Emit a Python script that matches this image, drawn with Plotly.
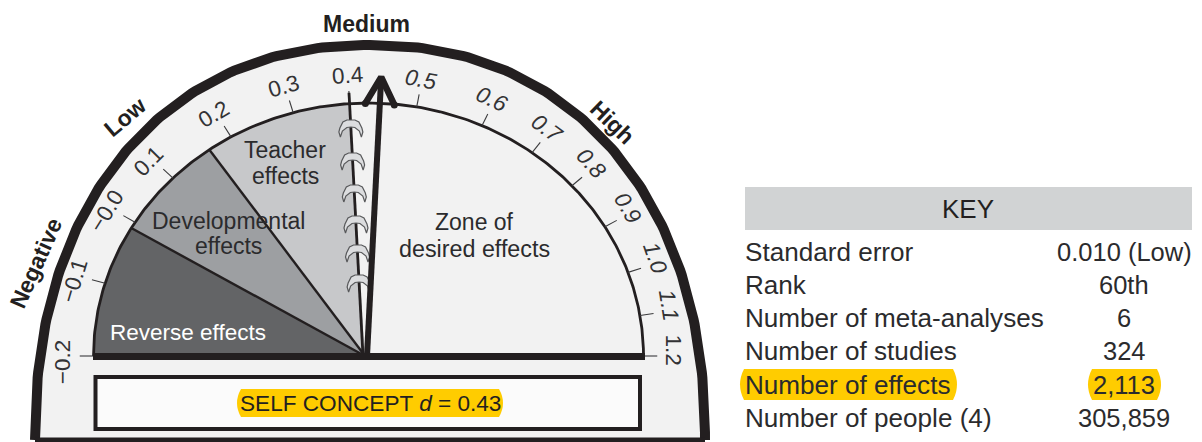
import numpy as np
import plotly.graph_objects as go

# ---------- data ----------
scale_d = [-0.2, -0.1, 0.0, 0.1, 0.2, 0.3, 0.4, 0.43, 0.5, 0.6, 0.7, 0.8, 0.9, 1.0, 1.1, 1.2]
scale_deg = [180, 163.3, 148.1, 135.3, 120, 105.9, 93.9, 87.6, 79.9, 65.6, 53.5, 42.3, 30.7, 19.3, 9.2, 0]
tick_values = [-0.2, -0.1, 0.0, 0.1, 0.2, 0.3, 0.4, 0.5, 0.6, 0.7, 0.8, 0.9, 1.0, 1.1, 1.2]
tick_labels = ["\u22120.2", "\u22120.1", "\u22120.0", "0.1", "0.2", "0.3", "0.4", "0.5", "0.6",
               "0.7", "0.8", "0.9", "1.0", "1.1", "1.2"]
zone_names = ["Reverse effects", "Developmental effects", "Teacher effects", "Zone of desired effects"]
zone_from = [-0.2, -0.01, 0.165, 0.4]
zone_to = [-0.01, 0.165, 0.4, 1.2]
zone_colors = ["#636466", "#9d9fa2", "#c7c8ca", "#f2f2f2"]
effect_d = 0.43
effect_name = "SELF CONCEPT"
band_names = ["Negative", "Low", "Medium", "High"]
key_names = ["Standard error", "Rank", "Number of meta-analyses", "Number of studies",
             "Number of effects", "Number of people (4)"]
key_values = ["0.010 (Low)", "60th", "6", "324", "2,113", "305,859"]

# ---------- page geometry ----------
W, H = 1202, 442
INK = "#231f20"
TXT = "#2b2b2d"
FONT = "Liberation Sans"
CX, CY, RX, RY = 368.5, 356, 275, 253
HUB = (365, 356)


def deg(d):
    return np.interp(d, scale_d, scale_deg)


def pt(d, s=1.0):
    t = np.radians(deg(d))
    return CX + s * RX * np.cos(t), CY - s * RY * np.sin(t)


fig = go.Figure()


def line(xs, ys, width, color=INK, **kw):
    fig.add_trace(go.Scatter(x=list(xs), y=list(ys), mode="lines",
                             line=dict(color=color, width=width),
                             hoverinfo="skip", showlegend=False, **kw))


# outer band (slightly squared ellipse)
t = np.radians(np.linspace(180, 0, 241))
OCX, OCY, ORX, ORY, P = 370, 440, 335, 395, 2.2
ox = OCX + ORX * np.sign(np.cos(t)) * np.abs(np.cos(t)) ** (2 / P)
oy = OCY - ORY * np.abs(np.sin(t)) ** (2 / P)
line(ox, oy, 10, fill="toself", fillcolor="#f2f2f2")
line([OCX - ORX, OCX + ORX], [440, 440], 5)

# zones
for a, b, col in zip(zone_from, zone_to, zone_colors):
    ds = np.linspace(a, b, 80)
    px, py = pt(ds)
    fig.add_trace(go.Scatter(x=[HUB[0], *px, HUB[0]], y=[HUB[1], *py, HUB[1]], mode="lines",
                             fill="toself", fillcolor=col, line=dict(width=0, color=col),
                             hoverinfo="skip", showlegend=False))
# zone divisions
for b in zone_to[:2]:
    px, py = pt(b)
    line([HUB[0], px], [HUB[1], py], 2.4)
# inner arc
px, py = pt(np.linspace(-0.2, 1.2, 300))
line(px, py, 2.8)
# ticks
for v in tick_values:
    x0, y0 = pt(v, 1.0)
    x1, y1 = pt(v, 1.05)
    line([x0, x1], [y0, y1], 1.1, "#3a3a3c")

# d = 0.4 spiral line
sx, sy = pt(0.4, 1.043)
line([sx, HUB[0] - 2], [sy, HUB[1]], 2.8)

# staples along the spiral line
staple_y = [128, 161, 193, 224, 253, 283]
arch_x = np.array([-10.5, -12, -11, -8, -4, 0, 4, 8, 11, 12, 10.5, 8.5, 4, 0, -4, -8.5, -10.5])
arch_y = np.array([9, 4, 0, -6, -8, -8, -8, -6, 0, 4, 9, 3, -0.5, -1, -0.5, 3, 9])
for yy in staple_y:
    f = (yy - sy) / (HUB[1] - sy)
    xx = sx + f * (HUB[0] - 2 - sx)
    fig.add_trace(go.Scatter(x=xx + arch_x, y=yy + arch_y, mode="lines", fill="toself",
                             fillcolor="#dcdddf", line=dict(color="#58595b", width=1.2),
                             hoverinfo="skip", showlegend=False))

# arrow
tipx, tipy = pt(effect_d, 1.103)
ux, uy = tipx - 367, tipy - 356
n = np.hypot(ux, uy)
ux, uy = ux / n, uy / n
line([367, tipx - 4 * ux], [356, tipy - 4 * uy], 6)
bx, by = tipx - 27 * ux, tipy - 27 * uy
wing_x = [bx + 14.5 * uy, tipx, bx - 14.5 * uy]
wing_y = [by - 14.5 * ux, tipy, by + 14.5 * ux]
line(wing_x, wing_y, 6.5)
fig.add_trace(go.Scatter(x=[wing_x[0], wing_x[2]], y=[wing_y[0], wing_y[2]], mode="markers",
                         marker=dict(color=INK, size=7, line=dict(width=0)),
                         hoverinfo="skip", showlegend=False))

# base bar
line([93, 645], [356.5, 356.5], 7)

# ---------- shapes ----------


def pill(x0, x1, y0, y1, b=5):
    m = (y0 + y1) / 2
    return dict(type="path", xref="x", yref="y", layer="above", fillcolor="#ffcc00",
                line=dict(width=0),
                path=f"M {x0+b},{y0} L {x1-b},{y0} Q {x1+b*0.6},{m} {x1-b},{y1} "
                     f"L {x0+b},{y1} Q {x0-b*0.6},{m} {x0+b},{y0} Z")


shapes = [
    dict(type="rect", xref="x", yref="y", layer="above", x0=95.5, x1=640, y0=377, y1=429,
         fillcolor="#fbfbfb", line=dict(color=INK, width=4)),
    pill(236, 504, 389, 417),
    dict(type="rect", xref="x", yref="y", layer="above", x0=745, x1=1192, y0=187, y1=230,
         fillcolor="#d1d3d4", line=dict(width=0)),
    pill(739, 958, 369, 400),
    pill(1087, 1162, 369, 400),
]

# ---------- text ----------
ann = []


def text(x, y, s, size=23, color=TXT, angle=0, anchor="center"):
    ann.append(dict(x=x, y=y, text=s, showarrow=False, xanchor=anchor, yanchor="middle",
                    textangle=angle, font=dict(family=FONT, size=size, color=color)))


for v, lab in zip(tick_values, tick_labels):
    a = float(deg(v))
    ta = np.radians(a + 1.2 * abs(np.cos(np.radians(a))))
    lx = CX + 1.11 * RX * np.cos(ta)
    ly = CY - 1.11 * RY * np.sin(ta)
    s = f"<i>{lab}</i>" if 0.45 < v < 1.15 else lab
    text(lx, ly, s, size=22.5, color="#333335", angle=90 - a)

for name, x, y, a in zip(band_names, [36, 125, 366, 612], [263, 117, 24, 122], [-66, -40, 0, 44]):
    text(x, y, f"<b>{name}</b>", size=23, color=INK, angle=a)

text(188, 332, "Reverse effects", size=22.5, color="#ffffff")
text(228, 221, "Developmental", size=23)
text(228, 246, "effects", size=23)
text(285, 150, "Teacher", size=23)
text(285, 176, "effects", size=23)
text(474, 222, "Zone of", size=23)
text(474, 249, "desired effects", size=23.3)
text(370, 403, f"{effect_name} <i>d</i> = {effect_d}", size=22.6, color=INK)

text(968, 209, "KEY", size=26, color=INK)
row_y = [252, 285, 318, 351, 385, 418]
for name, val, y in zip(key_names, key_values, row_y):
    text(743, y, name, size=26.1, anchor="left")
    text(1124, y, val, size=25.5)

fig.update_layout(
    width=W, height=H, margin=dict(l=0, r=0, t=0, b=0, pad=0),
    paper_bgcolor="white", plot_bgcolor="white", showlegend=False,
    xaxis=dict(range=[0, W], visible=False, fixedrange=True),
    yaxis=dict(range=[H, 0], visible=False, fixedrange=True),
    shapes=shapes, annotations=ann,
)
fig.write_html("out.html", config={"displayModeBar": False},
               post_script="document.body.style.margin='0';document.body.style.overflow='hidden';")
